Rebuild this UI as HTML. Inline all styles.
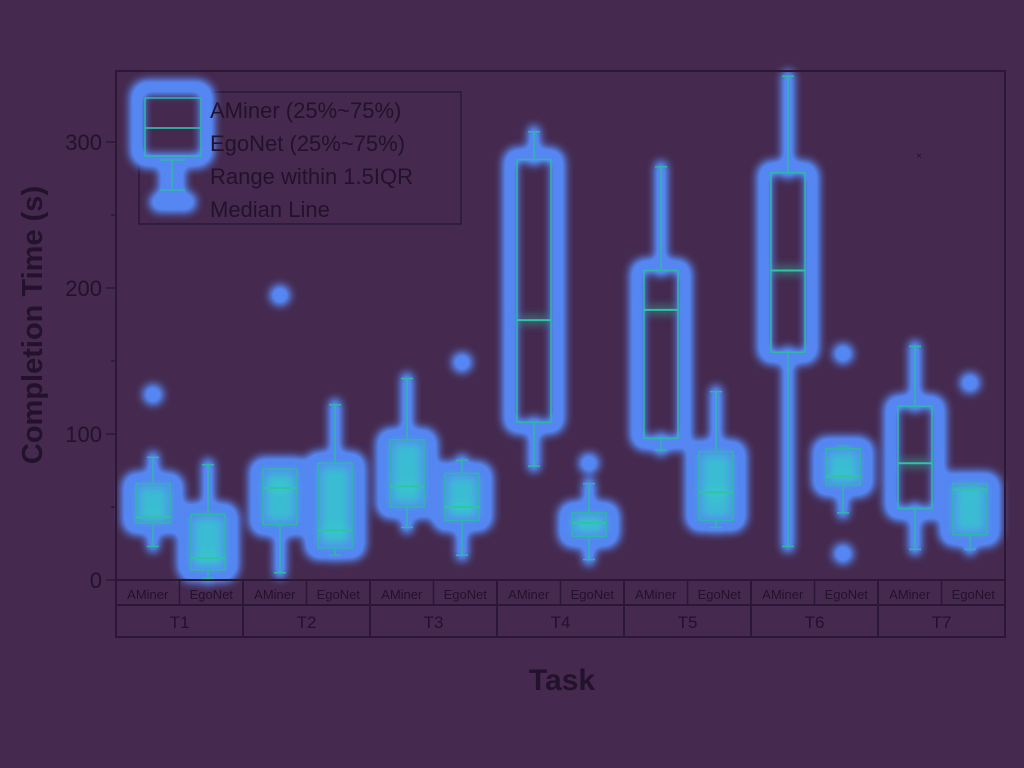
<!DOCTYPE html>
<html><head><meta charset="utf-8">
<style>
html,body{margin:0;padding:0;background:#45294e;}
svg{display:block;}
text{font-family:"Liberation Sans",sans-serif;fill:#23122c;}
</style></head>
<body>
<svg id="chart" width="1024" height="768" viewBox="0 0 1024 768">
<defs>
<filter id="glow" x="-50%" y="-50%" width="200%" height="200%"><feGaussianBlur stdDeviation="4.5"/><feComponentTransfer><feFuncA type="linear" slope="1.4"/></feComponentTransfer></filter>
<filter id="glow2" x="-50%" y="-50%" width="200%" height="200%"><feGaussianBlur stdDeviation="5"/></filter>
</defs>
<rect x="0" y="0" width="1024" height="768" fill="#45294e"/>
<g id="glowLayer" filter="url(#glow)"></g>
<g id="coreLayer" filter="url(#glow2)"></g>
<g id="lineLayer"></g>
<g id="axes"></g>
<g>
  <rect x="139" y="92" width="322" height="132" fill="none" stroke="#2a1836" stroke-width="1.5"/>
  <g filter="url(#glow)">
    <rect x="137" y="87" width="70" height="74" rx="10" fill="none" stroke="#5586f2" stroke-width="14"/>
    <line x1="172" y1="158" x2="172" y2="200" stroke="#5586f2" stroke-width="26"/>
    <rect x="150" y="192" width="46" height="20" rx="9" fill="#5586f2"/>
  </g>
  <g filter="url(#glow2)">
    <line x1="172" y1="165" x2="172" y2="205" stroke="#33d6b8" stroke-width="16" opacity="0.8"/>
  </g>
  <rect x="145" y="98" width="56" height="30" fill="none" stroke="#2fb8a8" stroke-width="1.5"/>
  <rect x="145" y="128" width="56" height="28" fill="none" stroke="#2fb8a8" stroke-width="1.5"/>
  <line x1="160" y1="160" x2="185" y2="160" stroke="#2fb8a8" stroke-width="1.5"/>
  <line x1="172" y1="160" x2="172" y2="190" stroke="#2fb8a8" stroke-width="1.5"/>
  <line x1="160" y1="190" x2="185" y2="190" stroke="#2fb8a8" stroke-width="1.5"/>
  <text x="210" y="118" font-size="22">AMiner (25%~75%)</text>
  <text x="210" y="151" font-size="22">EgoNet (25%~75%)</text>
  <text x="210" y="184" font-size="22">Range within 1.5IQR</text>
  <text x="210" y="217" font-size="22">Median Line</text>
</g>
<text x="42" y="325" font-size="29" font-weight="bold" text-anchor="middle" transform="rotate(-90 42 325)">Completion Time (s)</text>
<text x="562" y="690" font-size="30" font-weight="bold" text-anchor="middle">Task</text>
</svg>
<script>
const tasks = ["T1","T2","T3","T4","T5","T6","T7"];
const subs = ["AMiner","EgoNet"];
const whiskerLow = [23,1, 5,17, 36,17, 78,14, 89,36, 23,46, 21,21];
const q1Vals     = [39,7, 38,22, 50,41, 108,30, 97,41, 156,65, 49,31];
const medianVals = [43,15, 63,34, 64,50, 178,39, 185,60, 212,71, 80,62];
const q3Vals     = [66,45, 76,80, 96,73, 288,46, 212,88, 279,90, 119,66];
const whiskerHigh= [84,79, 76,120, 138,82, 307,66, 283,129, 345,92, 160,66];
const outlierBox = [0,2,5,7,11,11,13];
const outlierVal = [127,195,149,80,155,18,135];
const yTicks = [0,100,200,300];

const NS="http://www.w3.org/2000/svg";
const X0=116, X1=1005, YT=71, YB=580;
const groupW=(X1-X0)/tasks.length;
function yv(v){return YB-v*1.46;}
function xc(i){const g=Math.floor(i/2), s=i%2;return X0+g*groupW+(s===0?37:92);}
function mk(tag,attrs,parent){const e=document.createElementNS(NS,tag);for(const k in attrs)e.setAttribute(k,attrs[k]);parent.appendChild(e);return e;}
const gl=document.getElementById('glowLayer'), cl=document.getElementById('coreLayer'), ll=document.getElementById('lineLayer'), ax=document.getElementById('axes');
const bw=38;
for(let i=0;i<q1Vals.length;i++){
  const cx=xc(i), t=yv(q3Vals[i]), b=yv(q1Vals[i]), m=yv(medianVals[i]), wt=yv(whiskerHigh[i]), wb=yv(whiskerLow[i]);
  const h=b-t;
  const r=mk('rect',{x:cx-bw/2-5,y:t-5,width:bw+10,height:h+10,rx:8,fill:'none',stroke:'#5586f2','stroke-width':14},gl);
  
  
  if(h<90){
    mk('rect',{x:cx-bw/2+2,y:t+2,width:bw-4,height:Math.max(2,h-4),fill:'#5586f2'},gl);
    mk('rect',{x:cx-bw/2+4,y:t+3,width:bw-8,height:Math.max(2,h-6),fill:'#33cfc8',opacity:0.75},cl);
  }
  if(wt<t) mk('line',{x1:cx,y1:wt,x2:cx,y2:t,stroke:'#5586f2','stroke-width':12,'stroke-linecap':'round'},gl);
  if(wb>b) mk('line',{x1:cx,y1:b,x2:cx,y2:wb,stroke:'#5586f2','stroke-width':12,'stroke-linecap':'round'},gl);
  mk('line',{x1:cx-bw/2+4,y1:m,x2:cx+bw/2-4,y2:m,stroke:'#33d6c0','stroke-width':5,opacity:0.7},cl);
  const box=mk('rect',{x:cx-bw/2+2,y:t,width:bw-4,height:h,fill:'none',stroke:'#2fb8a8','stroke-width':1.5},ll);
  
  
  const med=mk('line',{x1:cx-bw/2+2,y1:m,x2:cx+bw/2-2,y2:m,stroke:'#2fc4a6','stroke-width':2},ll);
  
  
  mk('line',{x1:cx,y1:wt,x2:cx,y2:t,stroke:'#2fb8a8','stroke-width':1.5},ll);
  mk('line',{x1:cx,y1:b,x2:cx,y2:wb,stroke:'#2fb8a8','stroke-width':1.5},ll);
  mk('line',{x1:cx-6,y1:wt,x2:cx+6,y2:wt,stroke:'#2fb8a8','stroke-width':1.5},ll);
  mk('line',{x1:cx-6,y1:wb,x2:cx+6,y2:wb,stroke:'#2fb8a8','stroke-width':1.5},ll);
}
for(let k=0;k<outlierVal.length;k++){
  const cx=xc(outlierBox[k]), cy=yv(outlierVal[k]);
  const c=mk('circle',{cx:cx,cy:cy,r:10,fill:'#5586f2'},gl);
  
  
}
const tiny=mk('text',{x:xc(12)+4,y:yv(291)+4,'font-size':10,'text-anchor':'middle',fill:'#6a3a80'},ll);
tiny.textContent='×';


const fr=mk('rect',{x:X0,y:YT,width:X1-X0,height:YB-YT,fill:'none',stroke:'#2a1836','stroke-width':2},ax);


for(const v of yTicks){
  const yy=yv(v);
  mk('line',{x1:X0-10,y1:yy,x2:X0,y2:yy,stroke:'#2a1836','stroke-width':1.5},ax);
  const tx=mk('text',{x:X0-14,y:yy+8,'font-size':22,'text-anchor':'end'},ax);
  tx.textContent=v;
  
  
}
for(const v of [50,150,250]){const yy=yv(v);mk('line',{x1:X0-5,y1:yy,x2:X0,y2:yy,stroke:'#2a1836','stroke-width':1.5},ax);}
mk('rect',{x:X0,y:580,width:X1-X0,height:57,fill:'none',stroke:'#2a1836','stroke-width':2},ax);
mk('line',{x1:X0,y1:605,x2:X1,y2:605,stroke:'#2a1836','stroke-width':2},ax);
for(let g=0;g<tasks.length;g++){
  const gx=X0+g*groupW;
  if(g>0) mk('line',{x1:gx,y1:580,x2:gx,y2:637,stroke:'#2a1836','stroke-width':2},ax);
  mk('line',{x1:gx+groupW/2,y1:580,x2:gx+groupW/2,y2:605,stroke:'#2a1836','stroke-width':1.5},ax);
  for(let s=0;s<2;s++){
    const st=mk('text',{x:gx+groupW/4+s*groupW/2,y:599,'font-size':13,'text-anchor':'middle'},ax);
    st.textContent=subs[s];
    
    
  }
  const tl=mk('text',{x:gx+groupW/2,y:628,'font-size':17,'text-anchor':'middle'},ax);
  tl.textContent=tasks[g];
  
  
}
</script>
</body></html>
